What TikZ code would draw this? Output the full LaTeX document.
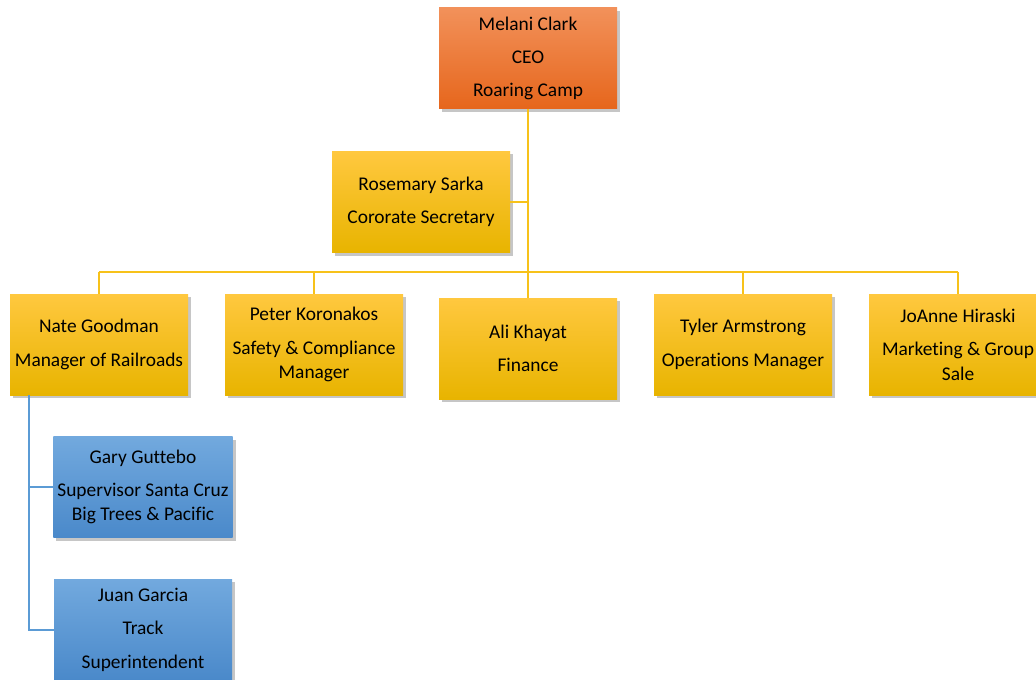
\documentclass[tikz,border=0pt]{standalone}
\usepackage{fontspec}
\setmainfont{Carlito}[Ligatures=NoCommon]
\usetikzlibrary{shadows}

\definecolor{orgtop}{HTML}{F2915A}
\definecolor{orgbot}{HTML}{E6661C}
\definecolor{yeltop}{HTML}{FFC83F}
\definecolor{yelbot}{HTML}{E8B400}
\definecolor{blutop}{HTML}{72A9DE}
\definecolor{blubot}{HTML}{4A89CA}
\definecolor{yelline}{HTML}{F7C21A}
\definecolor{bluline}{HTML}{5B9BD5}

\begin{document}
\begin{tikzpicture}[
    x=0.5pt, y=-0.5pt,
    every node/.style={font=\fontsize{9.7}{12.2}\selectfont},
    card/.style={rectangle, align=center, inner sep=2pt,
        minimum width=89pt, minimum height=50.5pt,
        drop shadow={opacity=0.45, shadow xshift=1.5pt, shadow yshift=-1.5pt}},
    boss/.style={card, top color=orgtop, bottom color=orgbot},
    head/.style={card, top color=yeltop, bottom color=yelbot},
    staff/.style={card, top color=blutop, bottom color=blubot},
    yline/.style={draw=yelline, line width=1pt},
    bline/.style={draw=bluline, line width=1pt}
]
\useasboundingbox (0,0) rectangle (1036,679);
\clip (0,0) rectangle (1036,679);

% top of the chart
\node[boss] (ceo) at (528,58.5) {Melani Clark\\[4.5pt] CEO\\[4.5pt] Roaring Camp};
\node[head] (sec) at (421,202) {Rosemary Sarka\\[4.5pt] Cororate Secretary};
\coordinate (bus) at (528,272);

% department heads
\node[head] (nate)   at (99,344.5)  {Nate Goodman\\[4.5pt] Manager of Railroads};
\node[head] (peter)  at (314,344.5) {Peter Koronakos\\[4.5pt] Safety \& Compliance\\ Manager};
\node[head] (ali)    at (528,348.5) {Ali Khayat\\[4.5pt] Finance};
\node[head] (tyler)  at (743,344.5) {Tyler Armstrong\\[4.5pt] Operations Manager};
\node[head] (joanne) at (958,344.5) {JoAnne Hiraski\\[4.5pt] Marketing \& Group\\ Sale};

% railroad staff
\node[staff] (gary) at (143,487)   {Gary Guttebo\\[4.5pt] Supervisor Santa Cruz\\ Big Trees \& Pacific};
\node[staff] (juan) at (143,629.5) {Juan Garcia\\[4.5pt] Track\\[4.5pt] Superintendent};
\coordinate (rail) at ([xshift=9.5pt]nate.south west);

% connectors
\draw[yline] (ceo.south) -- (bus);
\draw[yline] (sec.east) -- (sec.east -| ceo.south);
\draw[yline] (nate.north |- bus) -- (joanne.north |- bus);
\foreach \n in {nate,peter,ali,tyler,joanne}
    \draw[yline] (\n.north) -- (\n.north |- bus);
\draw[bline] (rail) |- (juan.west);
\draw[bline] (gary.west) -- (gary.west -| rail);
\end{tikzpicture}
\end{document}
